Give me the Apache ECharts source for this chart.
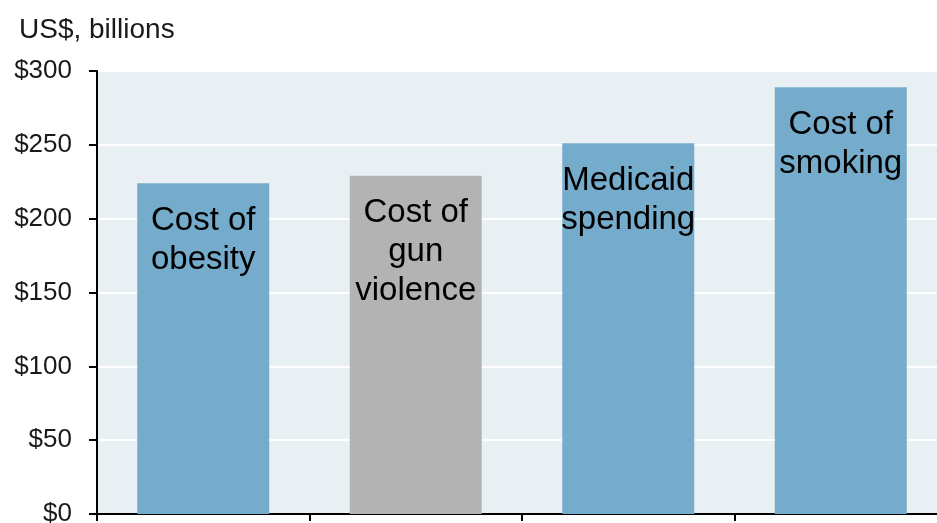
<!DOCTYPE html>
<html>
<head>
<meta charset="utf-8">
<script src="https://cdn.jsdelivr.net/npm/echarts@6/dist/echarts.min.js"></script>
<style>
html,body{margin:0;padding:0;background:#fff;overflow:hidden;}
#chart{width:947px;height:523px;}
</style>
</head>
<body>
<div id="chart"></div>
<script>
var categories = ["Cost of\nobesity", "Cost of\ngun\nviolence", "Medicaid\nspending", "Cost of\nsmoking"];
var values = [224, 229, 251, 289];
var yTicks = [0, 50, 100, 150, 200, 250, 300];
var unitLabel = "US$, billions";

var barColors = ["#75accb", "#b3b3b3", "#75accb", "#75accb"];

var chart = echarts.init(document.getElementById('chart'));
var font = "'Liberation Sans', Arial, sans-serif";
chart.setOption({
  animation: false,
  backgroundColor: '#ffffff',
  title: {
    text: unitLabel,
    left: 14,
    top: 11,
    textStyle: {fontFamily: font, fontSize: 28, fontWeight: 'normal', color: '#1a1a1a'}
  },
  grid: {
    left: 97, top: 71, width: 850, height: 443,
    outerBoundsMode: 'none',
    containLabel: false,
    show: true, backgroundColor: '#e9f0f4', borderWidth: 0
  },
  xAxis: {
    type: 'category',
    data: categories,
    boundaryGap: true,
    axisLine: {lineStyle: {color: '#000', width: 2}},
    axisTick: {show: true, length: 7, lineStyle: {color: '#000', width: 2}},
    axisLabel: {show: false},
    splitLine: {show: false}
  },
  yAxis: {
    type: 'value',
    min: yTicks[0],
    max: yTicks[yTicks.length - 1],
    interval: yTicks[1] - yTicks[0],
    axisLine: {show: true, lineStyle: {color: '#000', width: 2}},
    axisTick: {show: true, length: 8, lineStyle: {color: '#000', width: 2}},
    axisLabel: {
      formatter: function (v) { return '$' + v; },
      fontFamily: font, fontSize: 26, color: '#1a1a1a', margin: 25
    },
    splitLine: {show: true, lineStyle: {color: '#ffffff', width: 2}}
  },
  series: [{
    type: 'bar',
    barWidth: 132,
    data: values.map(function (v, i) {
      return {value: v, itemStyle: {color: barColors[i]}};
    }),
    label: {
      show: true,
      position: 'insideTop',
      distance: 18,
      formatter: function (p) { return categories[p.dataIndex]; },
      fontFamily: font,
      fontSize: 33,
      lineHeight: 39,
      color: '#000'
    }
  }]
});
</script>
</body>
</html>
